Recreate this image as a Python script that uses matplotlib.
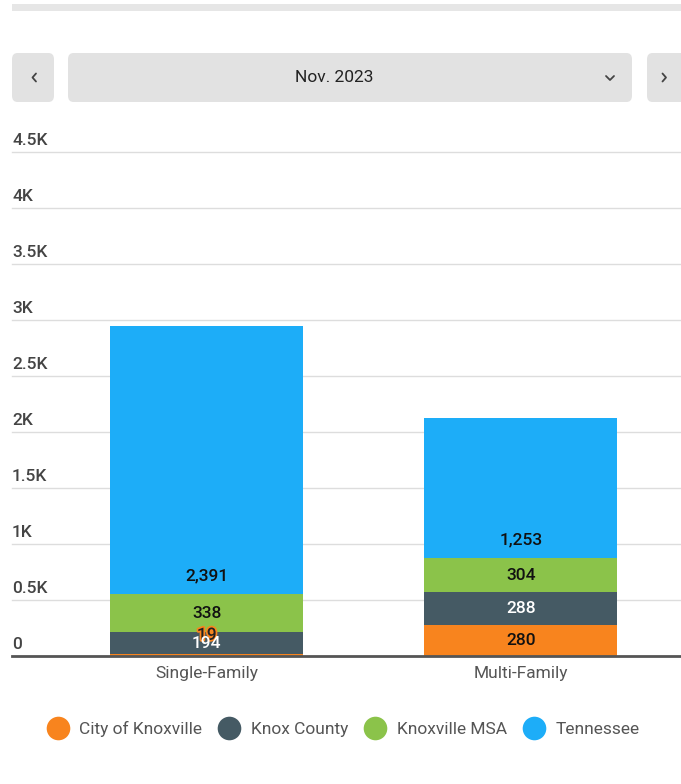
import matplotlib.pyplot as plt
from matplotlib.patches import FancyBboxPatch, Rectangle
from matplotlib.lines import Line2D
import matplotlib.patheffects as pe

plt.rcParams["font.family"] = ["Roboto", "DejaVu Sans"]

categories = ["Single-Family", "Multi-Family"]
series_names = ["City of Knoxville", "Knox County", "Knoxville MSA", "Tennessee"]
city = [19, 280]
county = [194, 288]
msa = [338, 304]
tennessee = [2391, 1253]
y_ticks = [0, 500, 1000, 1500, 2000, 2500, 3000, 3500, 4000, 4500]
y_tick_labels = ["0", "0.5K", "1K", "1.5K", "2K", "2.5K", "3K", "3.5K", "4K", "4.5K"]
period = "Nov. 2023"

colors = ["#F8841E", "#455A64", "#8BC34A", "#1DADF8"]
label_colors = ["#111111", "#FFFFFF", "#111111", "#111111"]
FS = 12.5

W, H = 681, 784
fig = plt.figure(figsize=(W / 100, H / 100), dpi=100)


def fx(px):
    return px / W


def fy(py):
    return 1 - py / H


# header strip and period selector
fig.patches.append(Rectangle((fx(12), fy(11)), fx(681 - 12), 7 / H,
                             transform=fig.transFigure, color="#E6E6E6", lw=0))
for x0, x1 in [(12, 54), (68, 632), (647, 690)]:
    fig.patches.append(FancyBboxPatch((fx(x0), fy(102)), fx(x1 - x0), 49 / H,
                                      boxstyle="round,pad=0,rounding_size=0.008",
                                      transform=fig.transFigure,
                                      fc="#E2E2E2", ec="none"))
fig.text(fx(334), fy(77), period, ha="center", va="center", fontsize=FS, color="#222222")
chev_kw = dict(transform=fig.transFigure, color="#444444", lw=1.3, solid_capstyle="round")
fig.add_artist(Line2D([fx(36), fx(32.5), fx(36)], [fy(73.5), fy(77.5), fy(81.5)], **chev_kw))
fig.add_artist(Line2D([fx(662.5), fx(666), fx(662.5)], [fy(73.5), fy(77.5), fy(81.5)], **chev_kw))
fig.add_artist(Line2D([fx(606), fx(610), fx(614)], [fy(76), fy(80), fy(76)], **chev_kw))

ax = fig.add_axes([fx(12), fy(656), fx(681 - 12), (656 - 152) / H])
ax.set_xlim(-0.62, 1.51)
ax.set_ylim(0, 4500)

x = list(range(len(categories)))
stack = [city, county, msa, tennessee]
bottoms = [0] * len(categories)
for i, vals in enumerate(stack):
    ax.bar(x, vals, width=0.615, bottom=bottoms, color=colors[i], zorder=2,
           label=series_names[i])
    for j, v in enumerate(vals):
        if i == 3:
            # last series labelled near its base
            ax.annotate(f"{v:,}", (x[j], bottoms[j]), xytext=(0, 13),
                        textcoords="offset points", ha="center", va="center",
                        fontsize=FS, fontweight="medium", color=label_colors[i], zorder=4)
        elif v < 60:
            ax.annotate(f"{v:,}", (x[j], bottoms[j] + v / 2), xytext=(0, 14),
                        textcoords="offset points", ha="center", va="center",
                        fontsize=FS, fontweight="medium", color="#222222", zorder=3,
                        path_effects=[pe.withStroke(linewidth=2.5, foreground=colors[i])])
        else:
            ax.text(x[j], bottoms[j] + v / 2, f"{v:,}", ha="center", va="center",
                    fontsize=FS, fontweight="medium", color=label_colors[i], zorder=4)
    bottoms = [b + v for b, v in zip(bottoms, vals)]

for t in y_ticks[1:]:
    ax.axhline(t, color="#DDDDDD", lw=1, zorder=1, clip_on=False)
for t, lab in zip(y_ticks, y_tick_labels):
    ax.annotate(lab, (0, t), xycoords=("axes fraction", "data"), xytext=(0, 3),
                textcoords="offset points", ha="left", va="bottom",
                fontsize=FS, fontweight="medium", color="#444444", annotation_clip=False)

ax.set_yticks([])
ax.set_xticks(x, categories)
ax.tick_params(axis="x", length=0, pad=7, labelsize=FS, labelcolor="#555555")
for s in ["top", "right", "left"]:
    ax.spines[s].set_visible(False)
ax.spines["bottom"].set_color("#555555")
ax.spines["bottom"].set_linewidth(2)
ax.spines["bottom"].set_zorder(5)

handles = [Line2D([], [], marker="o", ls="none", markersize=17,
                  markerfacecolor=c, markeredgecolor="none") for c in colors]
fig.legend(handles, series_names, loc="center", bbox_to_anchor=(fx(343), fy(729)),
           ncol=4, frameon=False, fontsize=FS, labelcolor="#555555",
           handletextpad=0.6, columnspacing=0.9, handlelength=1.3)

fig.savefig("out.png", dpi=100)
